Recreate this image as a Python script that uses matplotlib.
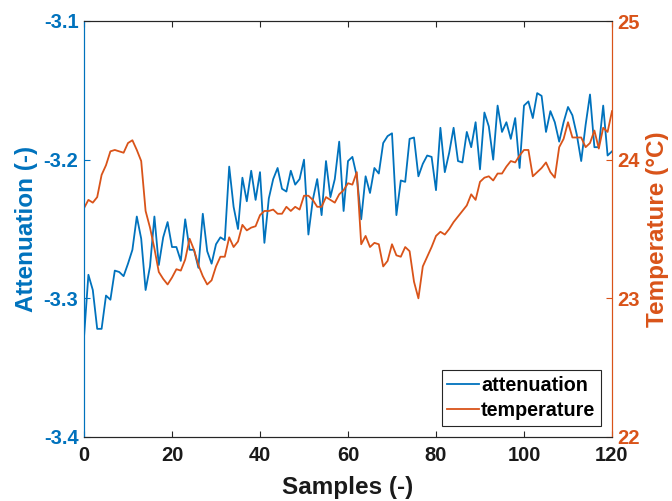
import matplotlib
matplotlib.use("Agg")
import matplotlib.pyplot as plt
import numpy as np

samples = list(range(121))
attenuation = [
    -3.328, -3.283, -3.294, -3.322, -3.322, -3.298, -3.301, -3.280, -3.281, -3.284,
    -3.275, -3.265, -3.241, -3.257, -3.294, -3.277, -3.241, -3.276, -3.256, -3.245,
    -3.263, -3.263, -3.273, -3.243, -3.265, -3.265, -3.278, -3.239, -3.266, -3.275,
    -3.261, -3.256, -3.258, -3.205, -3.234, -3.250, -3.213, -3.230, -3.208, -3.229,
    -3.209, -3.260, -3.228, -3.214, -3.206, -3.221, -3.223, -3.208, -3.218, -3.214,
    -3.200, -3.254, -3.229, -3.214, -3.240, -3.201, -3.227, -3.214, -3.187, -3.237,
    -3.201, -3.198, -3.212, -3.243, -3.212, -3.224, -3.206, -3.210, -3.188, -3.183,
    -3.181, -3.240, -3.215, -3.216, -3.185, -3.184, -3.212, -3.203, -3.197, -3.198,
    -3.222, -3.177, -3.209, -3.195, -3.177, -3.201, -3.202, -3.180, -3.191, -3.173,
    -3.207, -3.166, -3.176, -3.200, -3.161, -3.180, -3.173, -3.185, -3.170, -3.206,
    -3.161, -3.158, -3.170, -3.152, -3.154, -3.180, -3.165, -3.173, -3.187, -3.173,
    -3.162, -3.168, -3.182, -3.201, -3.175, -3.153, -3.191, -3.191, -3.161, -3.197,
    -3.194,
]
temperature = [
    23.65, 23.71, 23.69, 23.73, 23.89, 23.96, 24.06, 24.07, 24.06, 24.05,
    24.12, 24.14, 24.07, 23.99, 23.63, 23.51, 23.36, 23.19, 23.14, 23.10,
    23.15, 23.21, 23.20, 23.28, 23.43, 23.35, 23.24, 23.16, 23.10, 23.13,
    23.23, 23.30, 23.30, 23.44, 23.37, 23.41, 23.53, 23.49, 23.51, 23.52,
    23.60, 23.63, 23.63, 23.64, 23.61, 23.61, 23.66, 23.63, 23.66, 23.64,
    23.74, 23.74, 23.71, 23.66, 23.66, 23.73, 23.71, 23.69, 23.75, 23.78,
    23.83, 23.82, 23.91, 23.39, 23.45, 23.37, 23.40, 23.39, 23.23, 23.27,
    23.39, 23.31, 23.30, 23.37, 23.34, 23.12, 23.00, 23.23, 23.30, 23.37,
    23.45, 23.48, 23.46, 23.50, 23.55, 23.59, 23.63, 23.67, 23.75, 23.71,
    23.84, 23.87, 23.88, 23.85, 23.90, 23.90, 23.95, 23.99, 23.98, 24.03,
    24.07, 24.07, 23.88, 23.91, 23.94, 23.98, 23.91, 23.87, 24.09, 24.15,
    24.27, 24.16, 24.16, 24.16, 24.09, 24.12, 24.21, 24.08, 24.23, 24.20,
    24.35,
]
x_ticks = [0, 20, 40, 60, 80, 100, 120]
att_ticks = [-3.4, -3.3, -3.2, -3.1]
temp_ticks = [22, 23, 24, 25]

BLUE = "#0072BD"
ORANGE = "#D95319"
GRAY = "#262626"

plt.rcParams['font.family'] = ['Liberation Sans', 'DejaVu Sans']
plt.rcParams['font.weight'] = 'bold'

fig = plt.figure(figsize=(6.72, 5.01), dpi=100)
ax = fig.add_axes([84/672, 64/501, (612-84)/672, (437-21)/501])
ax2 = ax.twinx()

l1, = ax.plot(samples, attenuation, color=BLUE, lw=1.3, label='attenuation')
l2, = ax2.plot(samples, temperature, color=ORANGE, lw=1.3, label='temperature')

ax.set_xlim(0, 120)
ax.set_ylim(-3.4, -3.1)
ax2.set_ylim(22, 25)
ax.set_xticks(x_ticks)
ax.set_xticklabels([str(v) for v in x_ticks])
ax.set_yticks(att_ticks)
ax.set_yticklabels([f"{v:.1f}" for v in att_ticks])
ax2.set_yticks(temp_ticks)
ax2.set_yticklabels([str(v) for v in temp_ticks])

for a in (ax, ax2):
    for s in a.spines.values():
        s.set_linewidth(0.8)
    a.spines['top'].set_color(GRAY)
    a.spines['bottom'].set_color(GRAY)
    a.spines['left'].set_color(BLUE)
    a.spines['right'].set_color(ORANGE)

TICK_FS = 14.5
LABEL_FS = 17.5
ax.tick_params(axis='x', direction='in', top=True, length=4, width=0.8,
               colors=GRAY, labelsize=TICK_FS, pad=6.5)
ax.tick_params(axis='x', labelcolor='#1a1a1a')
ax.tick_params(axis='y', direction='in', length=4, width=0.8,
               colors=BLUE, labelsize=TICK_FS, pad=4)
ax2.tick_params(axis='y', direction='in', length=4, width=0.8,
                colors=ORANGE, labelsize=TICK_FS, pad=4)
for lab in ax.get_xticklabels() + ax.get_yticklabels() + ax2.get_yticklabels():
    lab.set_fontweight('bold')

ax.set_xlabel('Samples (-)', fontsize=LABEL_FS, fontweight='bold', color='#1a1a1a', labelpad=8)
ax.set_ylabel('Attenuation (-)', fontsize=LABEL_FS, fontweight='bold', color=BLUE, labelpad=4)
ax2.set_ylabel('Temperature (°C)', fontsize=LABEL_FS, fontweight='bold', color=ORANGE, labelpad=4)

leg = ax2.legend(handles=[l1, l2], loc='lower right',
                 frameon=True, fancybox=False, framealpha=1,
                 edgecolor='#262626', handlelength=1.6, handletextpad=0.1,
                 borderpad=0.3, labelspacing=0.3, borderaxespad=0.55,
                 prop={'weight': 'bold', 'size': 14.2})
leg.get_frame().set_linewidth(0.8)

fig.savefig('out.png', dpi=100)
